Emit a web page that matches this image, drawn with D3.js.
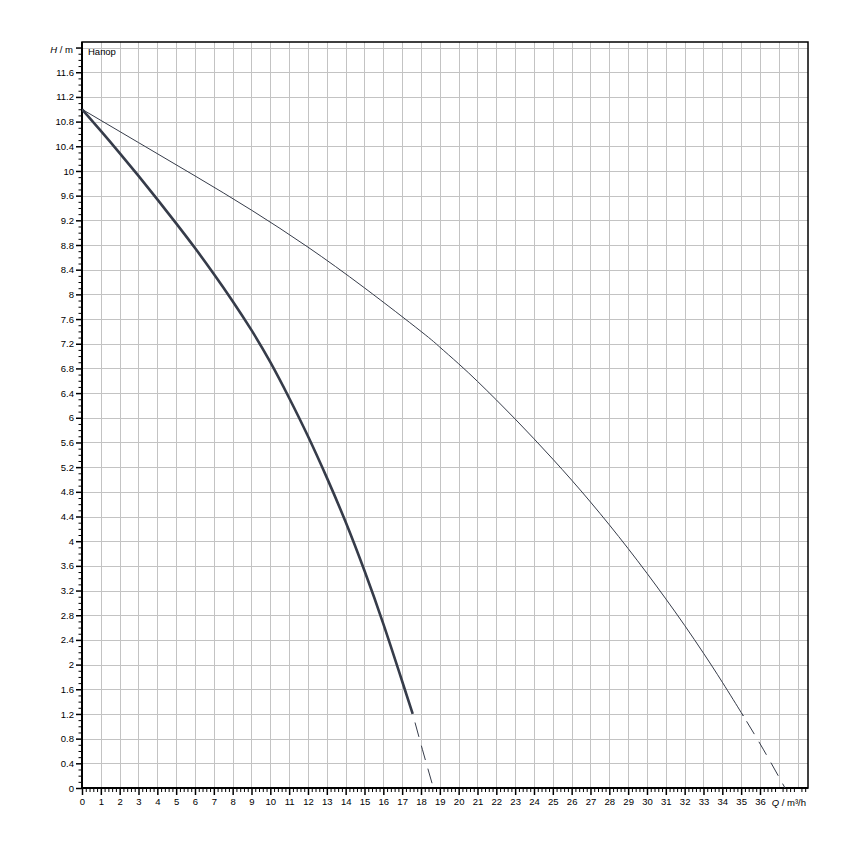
<!DOCTYPE html>
<html>
<head>
<meta charset="utf-8">
<script src="https://cdn.jsdelivr.net/npm/d3@7"></script>
<style>
  body { margin: 0; background: #fff; }
  svg { display: block; }
  text { font-family: "Liberation Sans", Arial, sans-serif; fill: #000; }
</style>
</head>
<body>
<script>
// ---- data ----
const curveA_Q = [0, 1, 2, 3, 4, 5, 6, 7, 8, 9, 10, 11, 12, 13, 14, 15, 16, 17, 17.56];
const curveA_H = [11.0, 10.65, 10.29, 9.92, 9.54, 9.15, 8.75, 8.33, 7.89, 7.42, 6.90, 6.32, 5.70, 5.03, 4.31, 3.52, 2.66, 1.73, 1.20];
const curveA_dashQ = [17.56, 18.08, 18.66];
const curveA_dashH = [1.20, 0.62, 0.0];

const curveB_Q = [0, 3, 6, 9, 12, 15, 18, 19, 20, 21, 22, 23, 24, 25, 26, 27, 28, 29, 30, 31, 32, 33, 34, 35, 35.04];
const curveB_H = [11.0, 10.46, 9.92, 9.365, 8.765, 8.105, 7.40, 7.145, 6.875, 6.59, 6.29, 5.98, 5.66, 5.33, 4.99, 4.635, 4.265, 3.88, 3.48, 3.065, 2.635, 2.185, 1.715, 1.225, 1.205];
const curveB_dashQ = [35.04, 36.17, 37.33];
const curveB_dashH = [1.205, 0.63, 0.0];

const xTickLabels = ["0","1","2","3","4","5","6","7","8","9","10","11","12","13","14","15","16","17","18","19","20","21","22","23","24","25","26","27","28","29","30","31","32","33","34","35","36"];
const yTickLabels = ["0","0.4","0.8","1.2","1.6","2","2.4","2.8","3.2","3.6","4","4.4","4.8","5.2","5.6","6","6.4","6.8","7.2","7.6","8","8.4","8.8","9.2","9.6","10","10.4","10.8","11.2","11.6"];
const xAxisTitle = "Q / m³/h";
const yAxisTitleItalic = "H";
const yAxisTitleRest = " / m";
const curveTitle = "Напор";

// ---- layout ----
const W = 850, Hh = 850;
const pL = 82, pR = 808, pT = 42, pB = 788;
const xMax = 38.55, yMax = 12.09;

const svg = d3.select("body").append("svg").attr("width", W).attr("height", Hh);
const x = d3.scaleLinear().domain([0, xMax]).range([pL, pR]);
const y = d3.scaleLinear().domain([0, yMax]).range([pB, pT]);

// grid
const gridColor = "#c3c3c3";
const xGrid = d3.range(1, 39);
const yGrid = d3.range(1, 31).map(i => +(i * 0.4).toFixed(1));
svg.append("g").selectAll("line").data(xGrid).join("line")
  .attr("x1", d => Math.round(x(d)) + 0.5).attr("x2", d => Math.round(x(d)) + 0.5)
  .attr("y1", pT).attr("y2", pB)
  .attr("stroke", gridColor).attr("stroke-width", 1);
svg.append("g").selectAll("line").data(yGrid).join("line")
  .attr("y1", d => Math.round(y(d)) + 0.5).attr("y2", d => Math.round(y(d)) + 0.5)
  .attr("x1", pL).attr("x2", pR)
  .attr("stroke", gridColor).attr("stroke-width", 1);

// axes
const xMajor = xTickLabels.map(Number);
const xAll = d3.range(0, 38.55, 0.2).map(v => +v.toFixed(1));
const xMinor = xAll.filter(v => Math.abs(v - Math.round(v)) > 0.01);
const yMajor = yTickLabels.map(Number).concat([12.0]);
const yAll = d3.range(0, 12.09, 0.1).map(v => +v.toFixed(1));
const yMinor = yAll.filter(v => !yMajor.some(m => Math.abs(m - v) < 0.01));

const xAxisMajor = d3.axisBottom(x).tickValues(xMajor).tickSize(7).tickFormat((d, i) => xTickLabels[i]);
const gx = svg.append("g").attr("transform", `translate(0,${pB})`).call(xAxisMajor);
gx.select(".domain").remove();
gx.selectAll("line").attr("stroke", "#000").attr("stroke-width", 1.5);
gx.selectAll("text").attr("font-size", 9.5).attr("dy", "0.71em").attr("y", 10).attr("fill", "#000");
const xAxisMinor = d3.axisBottom(x).tickValues(xMinor).tickSize(4).tickFormat("");
const gxm = svg.append("g").attr("transform", `translate(0,${pB})`).call(xAxisMinor);
gxm.select(".domain").remove();
gxm.selectAll("line").attr("stroke", "#000").attr("stroke-width", 1);

const yAxisMajor = d3.axisLeft(y).tickValues(yMajor).tickSize(6).tickFormat((d, i) => i < yTickLabels.length ? yTickLabels[i] : "");
const gy = svg.append("g").attr("transform", `translate(${pL},0)`).call(yAxisMajor);
gy.select(".domain").remove();
gy.selectAll("line").attr("stroke", "#000").attr("stroke-width", 1.5);
gy.selectAll("text").attr("font-size", 9.5).attr("x", -8).attr("fill", "#000");
const yAxisMinor = d3.axisLeft(y).tickValues(yMinor).tickSize(3.5).tickFormat("");
const gym = svg.append("g").attr("transform", `translate(${pL},0)`).call(yAxisMinor);
gym.select(".domain").remove();
gym.selectAll("line").attr("stroke", "#000").attr("stroke-width", 1);

// frame
svg.append("rect").attr("x", pL).attr("y", pT).attr("width", pR - pL).attr("height", pB - pT)
  .attr("fill", "none").attr("stroke", "#000").attr("stroke-width", 1.5);
svg.append("line").attr("x1", pL).attr("x2", pL).attr("y1", pT).attr("y2", pB)
  .attr("stroke", "#000").attr("stroke-width", 2);
svg.append("line").attr("x1", pL).attr("x2", pR).attr("y1", pB).attr("y2", pB)
  .attr("stroke", "#000").attr("stroke-width", 2);

// titles
const yt = svg.append("text").attr("x", 73).attr("y", 53).attr("text-anchor", "end").attr("font-size", 9.5);
yt.append("tspan").attr("font-style", "italic").text(yAxisTitleItalic);
yt.append("tspan").text(yAxisTitleRest);
svg.append("text").attr("x", 88).attr("y", 55).attr("font-size", 9.5).text(curveTitle);
const xt = svg.append("text").attr("x", 806).attr("y", 806).attr("text-anchor", "end").attr("font-size", 9.5);
xt.append("tspan").attr("font-style", "italic").text(xAxisTitle.slice(0, 1));
xt.append("tspan").text(xAxisTitle.slice(1));

// curves
const lineGen = d3.line().x(d => x(d[0])).y(d => y(d[1])).curve(d3.curveNatural);
const zip = (a, b) => a.map((v, i) => [v, b[i]]);
const curveColor = "#363c4a";

svg.append("clipPath").attr("id", "plotclip").append("rect")
  .attr("x", pL).attr("y", pT).attr("width", pR - pL).attr("height", pB - pT);
const gc = svg.append("g").attr("clip-path", "url(#plotclip)");

gc.append("path").datum(zip(curveB_Q, curveB_H)).attr("d", lineGen)
  .attr("fill", "none").attr("stroke", curveColor).attr("stroke-width", 1);
gc.append("path").datum(zip(curveB_dashQ, curveB_dashH)).attr("d", lineGen)
  .attr("fill", "none").attr("stroke", curveColor).attr("stroke-width", 1)
  .attr("stroke-dasharray", "15 9").attr("stroke-dashoffset", 15);

gc.append("path").datum(zip(curveA_Q, curveA_H)).attr("d", lineGen)
  .attr("fill", "none").attr("stroke", curveColor).attr("stroke-width", 2.6);
gc.append("path").datum(zip(curveA_dashQ, curveA_dashH)).attr("d", lineGen)
  .attr("fill", "none").attr("stroke", curveColor).attr("stroke-width", 1)
  .attr("stroke-dasharray", "15 9").attr("stroke-dashoffset", 15);
</script>
</body>
</html>
